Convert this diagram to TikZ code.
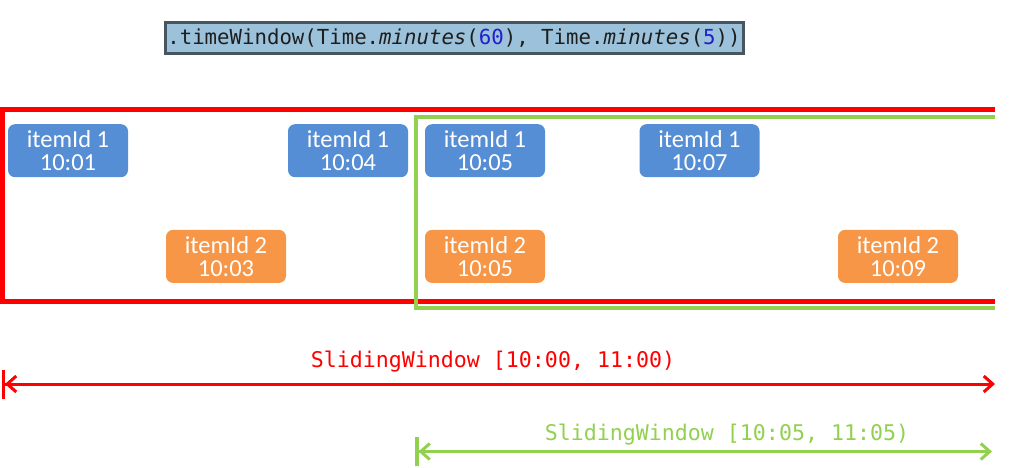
\documentclass[tikz,border=0pt]{standalone}
\usepackage{fontspec}
\setmainfont{Carlito}
\newfontfamily\codefont{DejaVu Sans Mono}
\usetikzlibrary{arrows.meta}
\definecolor{itemblue}{HTML}{558ED5}
\definecolor{itemorange}{HTML}{F79646}
\definecolor{wingreen}{HTML}{92D050}
\definecolor{codebg}{HTML}{9BC2DA}
\definecolor{codeline}{HTML}{47555F}
\definecolor{codenum}{HTML}{2020C8}
\definecolor{codetext}{HTML}{1E1E1E}
\begin{document}
\begin{tikzpicture}[x=1pt,y=-1pt]
      \tikzset{item/.style={rounded corners=7pt,minimum width=120pt,minimum height=53pt,inner sep=0pt,
          align=center,text=white,font=\fontsize{24.5}{22.5}\selectfont}}
      \tikzset{frame/.style={line width=4.5pt}}
      \tikzset{span/.style={line width=3pt,
          {Bar[width=29pt,line width=3.5pt]Straight Barb[length=9pt,width=16pt,line width=3pt]}-{Straight Barb[length=9pt,width=16pt,line width=3pt]}}}
      \tikzset{label/.style={font=\codefont\fontsize{21.6}{24}\selectfont}}
      \useasboundingbox (0,0) rectangle (1013,468);
      \node[draw=codeline,line width=3pt,fill=codebg,minimum width=578pt,minimum height=31pt,inner sep=0pt,
          font=\codefont\fontsize{20.7}{24}\selectfont,text=codetext] (code) at (454,38.5)
          {.timeWindow(Time.\textit{minutes}(\textcolor{codenum}{60}), Time.\textit{minutes}(\textcolor{codenum}{5}))};
      \draw[frame,red] (995,109.5) -- (2.5,109.5) -- (2.5,301.5) -- (995,301.5);
      \draw[frame,wingreen,line width=4pt] (995,117) -- (415.5,117) -- (415.5,308) -- (995,308);
      \node[item,fill=itemblue] (a1) at (68,150.7) {itemId 1\\10:01};
      \node[item,fill=itemblue] (a4) at (348,150.7) {itemId 1\\10:04};
      \node[item,fill=itemblue] (a5) at (485,150.7) {itemId 1\\10:05};
      \node[item,fill=itemblue] (a7) at (699.5,150.7) {itemId 1\\10:07};
      \node[item,fill=itemorange] (b3) at (226,256.4) {itemId 2\\10:03};
      \node[item,fill=itemorange] (b5) at (485,256.4) {itemId 2\\10:05};
      \node[item,fill=itemorange] (b9) at (898,256.4) {itemId 2\\10:09};
      \coordinate (r0) at (1.5,384);
      \coordinate (r1) at (995,384);
      \coordinate (g0) at (415,451.5);
      \coordinate (g1) at (992,451.5);
      \draw[span,red] (r0) -- (r1);
      \draw[span,wingreen] (g0) -- (g1);
      \node[label,text=red] (rlab) at (493,362) {SlidingWindow [10:00, 11:00)};
      \node[label,text=wingreen] (glab) at (727,435) {SlidingWindow [10:05, 11:05)};
    \end{tikzpicture}
\end{document}
